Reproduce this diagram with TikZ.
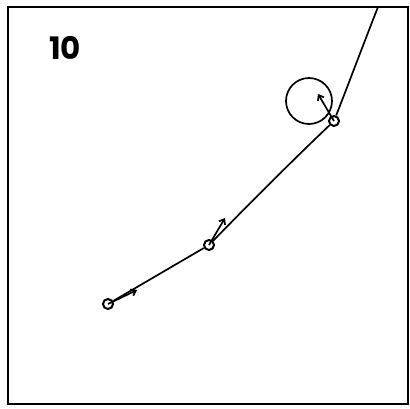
\documentclass[tikz,border=0pt]{standalone}
\usepackage{fontspec}
\newfontfamily\labelfont{Poppins}
\usetikzlibrary{arrows.meta}
\tikzset{
  pt/.style={circle,draw,line width=2pt,minimum size=10pt,inner sep=0pt},
  trail/.style={line width=1.7pt},
  vec/.style={line width=1.7pt,-{Straight Barb[length=4.5pt,width=7pt,line width=1.7pt]}},
}
\begin{document}
\begin{tikzpicture}[x=1pt,y=-1pt]
\useasboundingbox (0,0) rectangle (410,408);
\draw[line width=2.6pt] (8,7) rectangle (408,404);
\node[anchor=base west,inner sep=0pt,font=\labelfont\bfseries\fontsize{31}{31}\selectfont] (lbl) at (49,59) {10};
\node[pt] (p1) at (108,304) {};
\node[pt] (p2) at (209,245) {};
\node[pt] (p3) at (334,121) {};
\coordinate (top) at (378,7);
\draw[trail] (p1) -- (p2);
\draw[trail] (p2) .. controls (250,203) and (295,158) .. (p3);
\draw[trail] (p3) .. controls (350,80) and (365,40) .. (top);
\draw[line width=1.7pt] (309,101) circle (23);
\coordinate (a1) at (137,290);
\coordinate (a2) at (225,218);
\coordinate (a3) at (318,94);
\draw[vec] (p1.center) -- (a1);
\draw[vec] (p2.center) -- (a2);
\draw[vec] (p3.center) -- (a3);
\end{tikzpicture}
\end{document}
